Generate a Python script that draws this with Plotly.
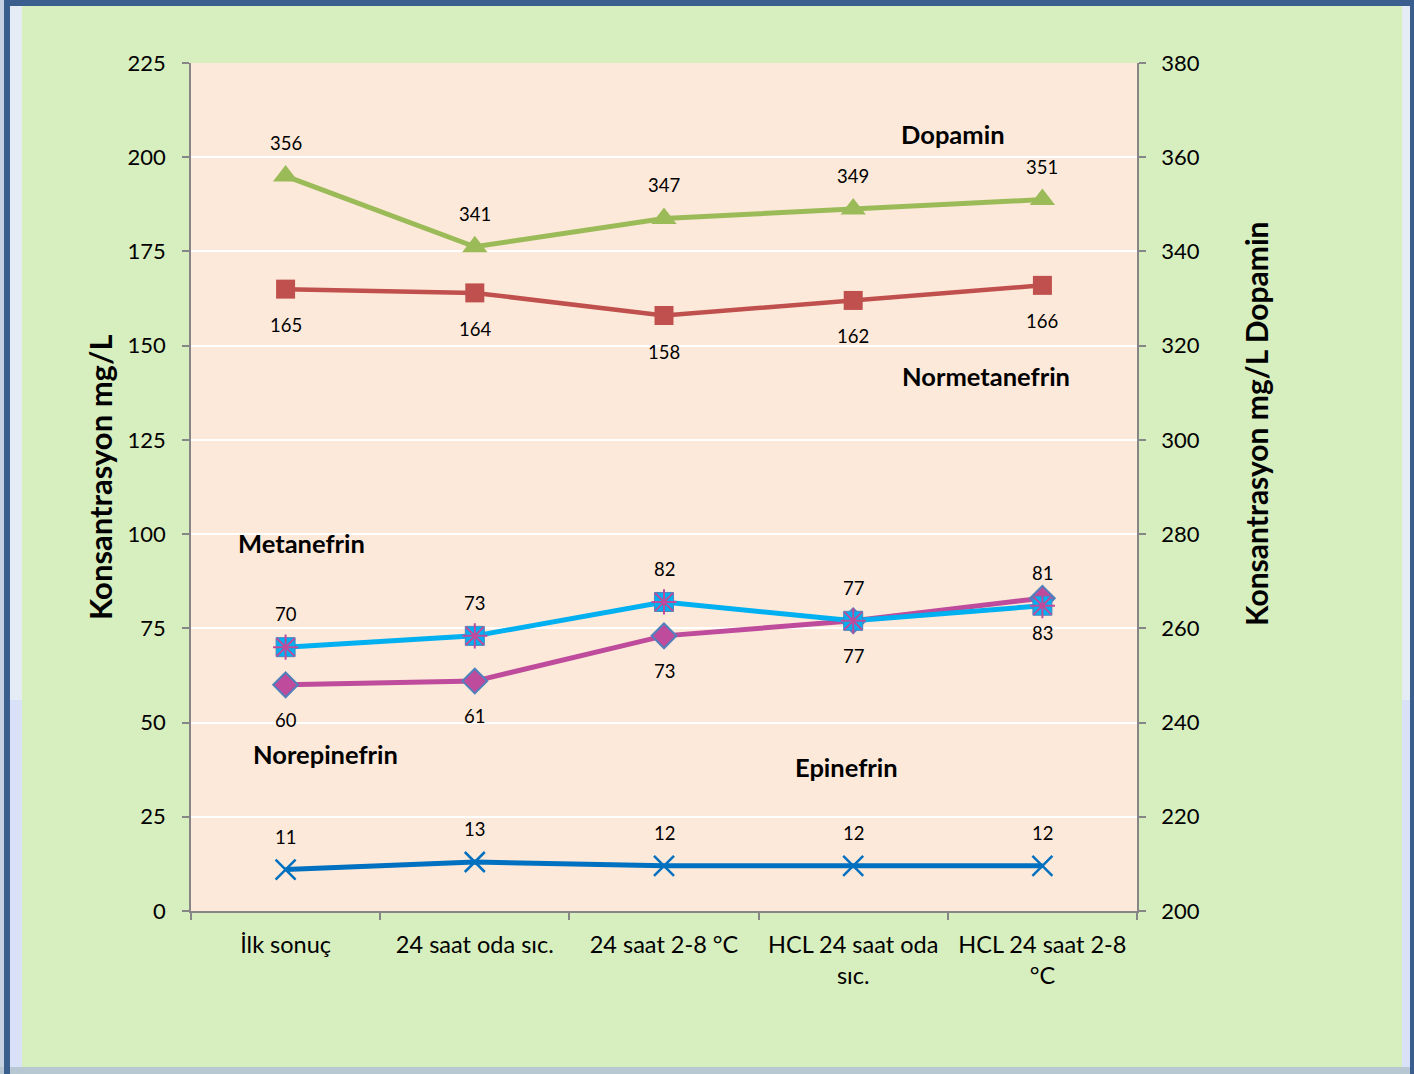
import plotly.graph_objects as go

# Sampling conditions (x categories)
categories = ["İlk sonuç", "24 saat oda sıc.", "24 saat 2-8 °C",
              "HCL 24 saat oda<br>sıc.", "HCL 24 saat 2-8<br>°C"]

# Concentrations (mg/L)
dopamin = [356, 341, 347, 349, 351]          # right axis
normetanefrin = [165, 164, 158, 162, 166]
metanefrin = [70, 73, 82, 77, 81]
norepinefrin = [60, 61, 73, 77, 83]
epinefrin = [11, 13, 12, 12, 12]

left_ticks = list(range(0, 226, 25))
right_ticks = list(range(200, 381, 20))

FONT = "Lato"
W, H = 1414, 1074
L, R, T, B = 191, 1137, 63, 911


def px(x):
    return (x - L) / (R - L)


def py(y):
    return (B - y) / (B - T)


fig = go.Figure()

fig.add_trace(go.Scatter(
    x=categories, y=epinefrin, mode="lines+markers", name="Epinefrin",
    line=dict(color="#0070C0", width=5),
    marker=dict(symbol="x-thin", size=20, line=dict(color="#0070C0", width=2.5)),
))
fig.add_trace(go.Scatter(
    x=categories, y=norepinefrin, mode="lines+markers", name="Norepinefrin",
    line=dict(color="#BE4B9B", width=5),
    marker=dict(symbol="diamond", size=19, color="#BE4B9B",
                line=dict(color="#4F81BD", width=2)),
))
fig.add_trace(go.Scatter(
    x=categories, y=metanefrin, mode="lines+markers", name="Metanefrin",
    line=dict(color="#00B0F0", width=5),
    marker=dict(symbol="square", size=19, color="#00B0F0",
                line=dict(color="#4F81BD", width=1)),
))
fig.add_trace(go.Scatter(
    x=categories, y=metanefrin, mode="markers", showlegend=False,
    marker=dict(symbol="asterisk", size=21, line=dict(color="#BE4B9B", width=2)),
))
fig.add_trace(go.Scatter(
    x=categories, y=normetanefrin, mode="lines+markers", name="Normetanefrin",
    line=dict(color="#C0504D", width=4.5),
    marker=dict(symbol="square", size=19, color="#C0504D"),
))
fig.add_trace(go.Scatter(
    x=categories, y=dopamin, mode="lines+markers", name="Dopamin", yaxis="y2",
    line=dict(color="#9BBB59", width=5),
    marker=dict(symbol="triangle-up", size=22, color="#9BBB59"),
))

annotations = []


def add_labels(values, yref, shift):
    for c, v in zip(categories, values):
        annotations.append(dict(
            x=c, y=v, xref="x", yref=yref, text=str(v), showarrow=False,
            yshift=shift, font=dict(family=FONT, size=18.5, color="#000000")))


add_labels(dopamin, "y2", 33)
add_labels(normetanefrin, "y", -36)
add_labels(metanefrin, "y", 33)
add_labels(norepinefrin, "y", -35)
add_labels(epinefrin, "y", 33)

# Series names placed inside the plot
for name, cx, cy in [("Dopamin", 953, 134), ("Normetanefrin", 986, 376),
                     ("Metanefrin", 301, 543), ("Norepinefrin", 325, 754),
                     ("Epinefrin", 846, 767)]:
    annotations.append(dict(
        x=px(cx), y=py(cy), xref="paper", yref="paper", text=f"<b>{name}</b>",
        showarrow=False, xanchor="center", yanchor="middle",
        font=dict(family=FONT, size=25.5, color="#000000")))

# Axis titles
annotations.append(dict(
    x=px(100), y=py(477), xref="paper", yref="paper",
    text="<b>Konsantrasyon mg/L</b>", textangle=-90, showarrow=False,
    xanchor="center", yanchor="middle",
    font=dict(family=FONT, size=31, color="#000000")))
annotations.append(dict(
    x=px(1256), y=py(424), xref="paper", yref="paper",
    text="<b>Konsantrasyon mg/L Dopamin</b>", textangle=-90, showarrow=False,
    xanchor="center", yanchor="middle",
    font=dict(family=FONT, size=30, color="#000000")))

# Window-style frame around the chart
shapes = []


def rect(x0, y0, x1, y1, color):
    shapes.append(dict(type="rect", xref="paper", yref="paper",
                       x0=px(x0), x1=px(x1), y0=py(y0), y1=py(y1),
                       fillcolor=color, line=dict(width=0), layer="below"))


rect(0, 0, 4, H, "#C6D1E1")
rect(10, 6, 22, 700, "#E5ECF6")
rect(10, 700, 22, 1067, "#D9E1F8")
rect(1402, 6, 1410, 700, "#E5ECF6")
rect(1402, 700, 1410, 1067, "#D9E1F8")
rect(0, 1067, W, H, "#B8C8D3")
rect(4, 0, 10, H, "#3A5E8E")
rect(4, 0, W, 6, "#3A5E8E")
rect(1410, 0, W, H, "#3A5E8E")

tick_font = dict(family=FONT, size=22, color="#000000")

fig.update_layout(
    width=W, height=H,
    margin=dict(l=L, r=W - R, t=T, b=H - B),
    paper_bgcolor="#D7EEBF",
    plot_bgcolor="#FDE9D9",
    showlegend=False,
    annotations=annotations,
    shapes=shapes,
    xaxis=dict(
        type="category", range=[-0.5, 4.5], tickson="boundaries",
        ticks="outside", ticklen=7, tickcolor="#868686", tickwidth=1.5,
        showline=True, linecolor="#868686", linewidth=1.5,
        showgrid=False, tickfont=dict(family=FONT, size=23.5, color="#000000"),
        tickangle=0, ticklabelstandoff=12,
    ),
    yaxis=dict(
        range=[0, 225], tickvals=left_ticks, ticks="outside", ticklen=7,
        tickcolor="#868686", tickwidth=1.5, showline=True,
        linecolor="#868686", linewidth=1.5, gridcolor="#FFFFFF",
        gridwidth=1.5, zeroline=False, tickfont=tick_font,
        ticklabelstandoff=12,
    ),
    yaxis2=dict(
        range=[200, 380], tickvals=right_ticks, overlaying="y", side="right",
        ticks="outside", ticklen=7, tickcolor="#868686", tickwidth=1.5,
        showline=True, linecolor="#868686", linewidth=1.5, showgrid=False,
        zeroline=False, tickfont=tick_font, ticklabelstandoff=11,
    ),
)

fig.write_html("out.html")
